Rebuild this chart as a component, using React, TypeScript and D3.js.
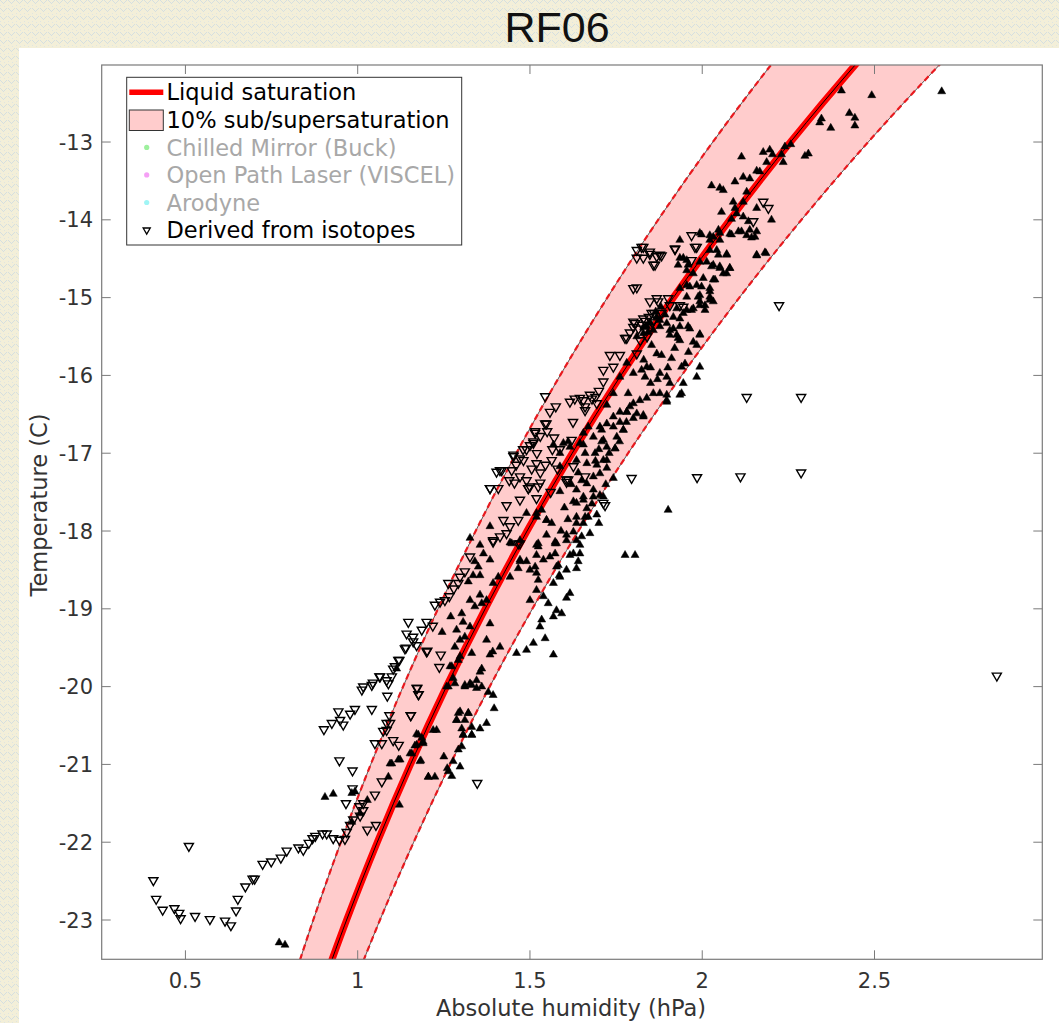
import React, { useEffect } from "react";
import * as d3 from "d3";

// ---------- data ----------
const xTicks = [0.5, 1, 1.5, 2, 2.5];
const yTicks = [-23, -22, -21, -20, -19, -18, -17, -16, -15, -14, -13];

const satTemps = [-24, -23, -22, -21, -20, -19, -18, -17, -16, -15, -14, -13, -12, -11];
const satHumidity = [0.8854, 0.9678, 1.0568, 1.1532, 1.2574, 1.37, 1.4915, 1.6226, 1.7639, 1.9161, 2.08, 2.2562, 2.4457, 2.6492];
const bandLower = [0.7969, 0.871, 0.9511, 1.0379, 1.1317, 1.233, 1.3424, 1.4603, 1.5875, 1.7245, 1.872, 2.0306, 2.2011, 2.3843];
const bandUpper = [0.9739, 1.0646, 1.1625, 1.2685, 1.3831, 1.507, 1.6407, 1.7849, 1.9403, 2.1077, 2.288, 2.4818, 2.6903, 2.9141];

// open down-triangles: derived from isotopes [humidity, temperature]
const isoOpen: [number, number][] = [
  [0.407, -22.49], [0.415, -22.73], [0.434, -22.87], [0.468, -22.85], [0.482, -22.91], [0.486, -22.98],
  [0.51, -22.05], [0.528, -22.95], [0.571, -22.99], [0.615, -23.01], [0.632, -23.07], [0.647, -22.88],
  [0.652, -22.73], [0.674, -22.57], [0.695, -22.47], [0.701, -22.47], [0.724, -22.28], [0.749, -22.25],
  [0.777, -22.2], [0.794, -22.11], [0.828, -22.07], [0.842, -22.1], [0.858, -22.01], [0.869, -21.95],
  [0.877, -21.92], [0.898, -21.89], [0.91, -21.89], [0.929, -21.95], [0.947, -21.97], [0.963, -21.96],
  [0.968, -21.87], [0.978, -21.78], [0.987, -21.71], [1.007, -21.66], [1.016, -21.59], [1.028, -21.84],
  [1.053, -21.78], [1.005, -21.54], [1.016, -21.5], [1.05, -21.39], [0.966, -21.5], [0.985, -21.31],
  [1.07, -21.22], [0.985, -21.08], [0.947, -20.95], [0.902, -20.55], [0.925, -20.47], [0.949, -20.43],
  [0.958, -20.49], [0.944, -20.32], [0.978, -20.35], [0.992, -20.29], [1.041, -20.29], [1.05, -20.73],
  [1.07, -20.73], [1.103, -20.69], [1.119, -20.75], [1.074, -20.57], [1.084, -20.47], [1.092, -20.37],
  [1.154, -20.37], [1.173, -20.02], [1.177, -20.1], [1.012, -20.04], [1.016, -20.0], [1.041, -19.98],
  [1.044, -19.95], [1.063, -19.87], [1.084, -19.92], [1.086, -20.12], [1.099, -19.87], [1.108, -19.74],
  [1.121, -19.66], [1.14, -19.5], [1.161, -19.42], [1.2, -19.55], [1.094, -20.47], [1.084, -20.56],
  [1.065, -19.87], [1.089, -19.96], [1.103, -19.77], [1.118, -19.66], [1.137, -19.51], [1.142, -19.32],
  [1.147, -19.17], [1.161, -19.36], [1.171, -19.47], [1.186, -19.27], [1.2, -19.17], [1.218, -19.22],
  [1.202, -19.54], [1.241, -19.59], [1.237, -19.75], [1.171, -20.02], [1.176, -20.1], [1.154, -20.37],
  [1.224, -18.95], [1.239, -18.91], [1.253, -18.89], [1.266, -18.84], [1.279, -18.74], [1.292, -18.67],
  [1.263, -18.67], [1.297, -18.59], [1.311, -18.52], [1.326, -18.33], [1.384, -17.45], [1.408, -17.45],
  [1.403, -17.24], [1.418, -17.22], [1.452, -17.02], [1.471, -17.07], [1.447, -17.22], [1.471, -17.3],
  [1.495, -17.45], [1.432, -17.67], [1.471, -17.6], [1.423, -17.86], [1.442, -17.94], [1.466, -17.86],
  [1.393, -18.12], [1.413, -18.07], [1.432, -18.03], [1.515, -16.74], [1.51, -16.87], [1.544, -16.62],
  [1.519, -17.13], [1.524, -17.43], [1.519, -17.58], [1.626, -17.17], [1.606, -17.37], [1.66, -17.3],
  [1.544, -16.27], [1.558, -16.47], [1.616, -16.34], [1.645, -16.29], [1.674, -16.25], [1.694, -16.36],
  [1.548, -16.62], [1.515, -16.72], [1.51, -16.85], [1.452, -17.04], [1.481, -17.09], [1.413, -17.22],
  [1.384, -17.45], [1.5, -17.43], [1.563, -17.09], [1.606, -17.34], [1.393, -18.14], [1.471, -18.16],
  [1.713, -17.64], [1.8, -14.88], [1.713, -15.93], [1.742, -15.89], [1.732, -15.74], [1.761, -15.74],
  [1.776, -15.52], [1.81, -15.72], [1.8, -15.31], [1.829, -15.27], [1.848, -15.05], [1.872, -15.05],
  [1.906, -15.1], [1.945, -15.12], [1.81, -14.39], [1.829, -14.35], [1.848, -14.41], [1.868, -14.47],
  [1.858, -14.58], [1.877, -14.45], [1.921, -14.38], [1.969, -14.2], [1.984, -14.35], [1.969, -14.52],
  [2.129, -16.28], [1.795, -17.32], [1.985, -17.31], [2.111, -17.3], [2.223, -15.1], [2.287, -16.28],
  [2.287, -17.25], [2.855, -19.86], [1.347, -21.24], [1.81, -14.87], [1.824, -14.35], [1.81, -14.49],
  [1.829, -14.49], [1.848, -14.44], [1.863, -14.58], [1.882, -14.46], [1.921, -14.37], [1.979, -14.35],
  [2.177, -13.77], [2.192, -13.85], [2.148, -14.02], [1.868, -15.01], [1.901, -15.01], [1.935, -15.1],
  [1.853, -15.2], [1.882, -15.2], [1.805, -15.33], [1.781, -15.52], [1.621, -16.83], [1.611, -17.34],
  [1.495, -17.45], [1.718, -17.67], [1.713, -16.08], [1.466, -18.16], [1.587, -16.95], [1.625, -16.6],
  [1.57, -16.8], [1.49, -16.95], [1.53, -17.25], [1.455, -17.38], [1.575, -16.4], [1.66, -16.45],
  [1.79, -15.45], [1.8, -15.38], [1.815, -15.4], [1.825, -15.35], [1.835, -15.3], [1.845, -15.25],
  [1.82, -15.55], [1.84, -15.5], [1.855, -15.32], [1.86, -15.2], [1.63, -16.3], [1.655, -16.32],
  [1.68, -16.3], [1.66, -16.4], [1.69, -16.28], [1.7, -16.2], [1.48, -16.95], [1.5, -16.9],
  [1.53, -16.78], [1.55, -16.72], [1.565, -16.95], [1.52, -17.0], [1.46, -17.15], [1.505, -17.2],
  [1.545, -17.15], [1.49, -17.35], [1.53, -17.38], [1.56, -17.5], [1.44, -17.35], [1.58, -17.2],
];

// filled up-triangles [humidity, temperature]
const isoFilled: [number, number][] = [
  [0.772, -23.29], [0.789, -23.32], [0.905, -21.42], [0.929, -21.38], [0.983, -21.37], [0.992, -21.35],
  [1.028, -21.46], [0.983, -21.74], [1.007, -21.63], [1.121, -21.52], [1.099, -20.99], [1.123, -20.94],
  [1.089, -21.16], [1.152, -20.86], [1.166, -20.76], [1.183, -20.95], [1.171, -20.61], [1.19, -20.73],
  [1.205, -21.16], [1.113, -19.77], [1.219, -20.56], [1.292, -20.34], [1.287, -20.43], [1.311, -20.43],
  [1.321, -20.34], [1.306, -20.62], [1.331, -20.62], [1.355, -20.54], [1.374, -20.47], [1.396, -20.28],
  [1.258, -20.0], [1.277, -19.89], [1.268, -19.74], [1.292, -19.66], [1.282, -19.49], [1.297, -19.4],
  [1.311, -19.36], [1.331, -19.57], [1.311, -19.98], [1.331, -19.98], [1.345, -19.92], [1.345, -20.02],
  [1.36, -20.0], [1.379, -20.07], [1.393, -20.11], [1.36, -19.77], [1.355, -19.81], [1.374, -19.4],
  [1.384, -19.59], [1.413, -19.49], [1.392, -19.55], [1.287, -19.27], [1.306, -19.17], [1.326, -19.23],
  [1.384, -19.19], [1.302, -19.06], [1.326, -18.89], [1.34, -18.97], [1.36, -18.93], [1.374, -18.89],
  [1.355, -18.82], [1.321, -18.65], [1.335, -18.57], [1.355, -18.57], [1.35, -18.46], [1.393, -18.67],
  [1.408, -18.59], [1.34, -18.39], [1.365, -18.29], [1.384, -18.37], [1.355, -18.18], [1.326, -18.09],
  [1.442, -18.59], [1.466, -18.48], [1.471, -18.37], [1.49, -18.39], [1.519, -18.54], [1.515, -18.46],
  [1.524, -18.63], [1.539, -18.37], [1.558, -18.33], [1.519, -18.31], [1.442, -18.15], [1.471, -18.12],
  [1.519, -18.18], [1.573, -18.16], [1.548, -18.05], [1.606, -18.05], [1.573, -18.29], [1.582, -18.44],
  [1.616, -18.31], [1.635, -18.48], [1.645, -18.29], [1.585, -18.57], [1.568, -18.67], [1.606, -18.86],
  [1.553, -18.93], [1.577, -19.02], [1.592, -19.06], [1.568, -19.1], [1.534, -19.14], [1.529, -19.23],
  [1.544, -19.38], [1.51, -19.44], [1.49, -19.53], [1.461, -19.57], [1.568, -19.59], [1.616, -18.8],
  [1.539, -18.84], [1.519, -18.76], [1.5, -18.89], [1.384, -17.94], [1.447, -18.16], [1.49, -17.77],
  [1.519, -17.82], [1.534, -17.73], [1.548, -17.86], [1.626, -17.62], [1.655, -17.6], [1.635, -17.47],
  [1.66, -17.82], [1.635, -17.9], [1.587, -17.0], [1.568, -16.89], [1.611, -16.85], [1.655, -16.89],
  [1.635, -17.09], [1.665, -17.13], [1.993, -14.17], [2.022, -14.2], [2.051, -14.17], [2.08, -14.18],
  [2.105, -14.15], [2.129, -14.2], [2.153, -14.22], [2.158, -14.45], [2.182, -14.42], [2.071, -14.45],
  [2.047, -14.45], [2.022, -14.39], [1.993, -14.54], [1.935, -14.49], [2.032, -14.58], [2.051, -14.6],
  [2.08, -14.62], [2.071, -14.69], [1.955, -14.65], [1.974, -14.69], [2.003, -14.75], [2.032, -14.77],
  [2.022, -14.88], [1.964, -14.86], [1.935, -14.88], [1.955, -14.99], [1.988, -14.99], [2.022, -14.99],
  [2.032, -15.05], [1.993, -15.05], [1.974, -15.14], [2.008, -15.16], [1.926, -15.14], [1.945, -15.2],
  [1.916, -15.25], [1.897, -15.33], [1.935, -15.37], [1.959, -15.37], [1.993, -15.48], [1.974, -15.57],
  [1.906, -15.42], [1.926, -15.48], [1.935, -15.55], [1.984, -15.61], [1.853, -15.61], [1.868, -15.72],
  [1.882, -15.74], [1.911, -15.78], [1.839, -15.89], [1.834, -16.02], [1.877, -15.97], [1.897, -16.02],
  [1.906, -16.1], [1.94, -15.89], [1.993, -15.89], [1.984, -16.02], [1.945, -16.1], [1.935, -16.25],
  [1.897, -16.25], [1.877, -16.23], [1.858, -16.23], [1.839, -16.29], [1.819, -16.32], [1.8, -16.36],
  [1.781, -16.47], [1.81, -16.49], [1.829, -16.51], [1.897, -16.34], [1.761, -16.6], [1.742, -16.66],
  [1.771, -16.7], [1.723, -16.62], [1.703, -16.66], [1.752, -16.79], [1.713, -16.83], [1.723, -16.92],
  [1.747, -16.94], [1.689, -17.0], [1.713, -17.09], [1.723, -17.19], [1.703, -17.26], [1.684, -17.3],
  [1.742, -17.32], [1.665, -17.39], [1.684, -17.47], [1.713, -17.56], [1.655, -17.56], [1.635, -17.64],
  [1.665, -17.71], [1.694, -17.79], [1.635, -17.82], [1.655, -17.9], [1.626, -18.01], [1.674, -18.03],
  [1.606, -18.12], [1.635, -18.12], [1.901, -17.73], [1.573, -18.14], [1.524, -18.16], [1.519, -17.77],
  [1.548, -17.86], [1.563, -17.9], [1.587, -17.49], [1.587, -17.17], [1.597, -16.87], [1.616, -16.92],
  [1.645, -16.87], [1.655, -16.74], [1.684, -16.79], [1.669, -16.66], [1.708, -16.7], [1.742, -16.53],
  [1.723, -16.38], [1.761, -16.47], [1.742, -16.23], [1.785, -16.23], [1.824, -15.93], [1.8, -15.97],
  [1.761, -16.02], [1.781, -15.84], [1.81, -15.5], [1.829, -15.46], [1.858, -15.42], [1.839, -15.37],
  [1.877, -15.29], [1.892, -15.22], [1.868, -15.25], [1.935, -14.26], [1.955, -14.52], [2.404, -12.34],
  [2.492, -12.4], [2.695, -12.35], [2.346, -12.7], [2.341, -12.75], [2.373, -12.82], [2.427, -12.63],
  [2.443, -12.69], [2.443, -12.79], [2.24, -13.06], [2.257, -13.03], [2.23, -13.16], [2.235, -13.26],
  [2.196, -13.1], [2.177, -13.13], [2.204, -13.16], [2.187, -13.26], [2.114, -13.19], [2.298, -13.18],
  [2.308, -13.15], [2.158, -13.37], [2.167, -13.38], [2.119, -13.45], [2.138, -13.47], [2.095, -13.51],
  [2.027, -13.56], [2.051, -13.59], [2.061, -13.62], [2.129, -13.64], [2.09, -13.77], [2.119, -13.77],
  [2.095, -13.85], [2.056, -13.9], [2.1, -13.92], [2.085, -13.99], [2.119, -13.96], [2.134, -14.02],
  [2.158, -13.85], [2.201, -14.0], [2.138, -14.13], [2.158, -14.15], [2.143, -14.23], [2.114, -14.15],
  [2.085, -14.19], [2.047, -14.13], [2.032, -14.22], [1.998, -14.19], [2.022, -14.26], [2.051, -14.26],
  [2.158, -14.46], [2.185, -14.43], [2.071, -14.44], [2.042, -14.39], [2.013, -14.54], [2.027, -14.6],
  [2.051, -14.62], [2.08, -14.62], [2.061, -14.69], [2.037, -14.77], [1.945, -14.49], [1.93, -14.58],
  [1.959, -14.58], [1.984, -14.84], [1.998, -14.86], [2.022, -14.92], [2.022, -15.03], [1.993, -14.97],
  [1.955, -14.84], [1.969, -15.16], [1.993, -15.1], [2.008, -15.1], [1.955, -15.16], [1.935, -15.27],
  [1.964, -15.4], [1.993, -15.47], [1.916, -15.4], [1.906, -15.48], [1.93, -15.52], [1.877, -15.37],
  [1.843, -15.44], [1.94, -16.23], [1.897, -16.32], [1.829, -16.53], [1.781, -16.47], [1.771, -16.7],
  [1.747, -16.94], [1.708, -16.85], [1.723, -17.09], [1.694, -17.15], [1.684, -17.56], [1.703, -17.54],
  [1.669, -17.82], [1.65, -18.07], [1.645, -18.18], [1.626, -18.29], [1.64, -18.39], [1.577, -18.16],
  [1.606, -18.5], [1.577, -18.46], [1.587, -18.59], [1.524, -18.2], [1.471, -18.39], [1.5, -18.5],
  [1.776, -18.31], [1.805, -18.31], [1.273, -21.15], [1.263, -21.09], [1.297, -21.03], [1.277, -20.96],
  [1.292, -20.81], [1.302, -20.77], [1.306, -20.62], [1.331, -20.62], [1.302, -20.54], [1.331, -20.52],
  [1.205, -21.16], [1.224, -21.16], [1.181, -20.96], [1.094, -20.99], [1.118, -20.94], [1.157, -20.86],
  [1.171, -20.75], [1.19, -20.71], [1.186, -20.66], [1.297, -20.32], [1.321, -20.34], [1.287, -20.43],
  [1.229, -20.56], [1.176, -20.62], [1.297, -19.61], [1.273, -19.74], [1.263, -20.0], [1.282, -19.96],
  [1.311, -20.0], [1.326, -19.96], [1.26, -21.05], [1.25, -20.9], [1.245, -19.3], [1.27, -19.1],
  [1.83, -15.38], [1.85, -15.33], [1.865, -15.18], [1.88, -15.12], [1.69, -17.1], [1.7, -16.95],
  [1.66, -17.0], [1.64, -17.25], [1.62, -17.4], [1.6, -17.7], [1.61, -17.85], [1.59, -18.0],
  [1.65, -17.35], [1.68, -17.65], [1.7, -17.9], [1.72, -17.4], [1.73, -17.0], [1.76, -16.85],
  [1.78, -16.6], [1.8, -16.55], [1.79, -16.4], [1.85, -16.1], [1.87, -16.05], [1.9, -15.9],
  [1.92, -15.65], [1.96, -15.7], [1.95, -15.85], [1.83, -15.8], [1.85, -15.9],
];

const legendLabels = [
  "Liquid saturation",
  "10% sub/supersaturation",
  "Chilled Mirror (Buck)",
  "Open Path Laser (VISCEL)",
  "Arodyne",
  "Derived from isotopes",
];
const legendDotColors = ["#9ef09e", "#f5a0f5", "#a0f5f5"];

// ---------- layout ----------
const W = 1059;
const H = 1023;
const AX = { left: 101.7, right: 1042.3, top: 65, bottom: 959.3 };
const FONT = "DejaVu Sans";

export default function App() {
  useEffect(() => {
    document.body.style.margin = "0";
  }, []);

  const x = d3.scaleLinear().domain([0.257, 2.987]).range([AX.left, AX.right]);
  const y = d3.scaleLinear().domain([-23.505, -12.01]).range([AX.bottom, AX.top]);

  const satPts = satTemps.map((t, i) => [satHumidity[i], t] as [number, number]);
  const lowPts = satTemps.map((t, i) => [bandLower[i], t] as [number, number]);
  const upPts = satTemps.map((t, i) => [bandUpper[i], t] as [number, number]);

  const line = d3
    .line<[number, number]>()
    .x((d) => x(d[0]))
    .y((d) => y(d[1]))
    .curve(d3.curveCatmullRom);

  const area = d3
    .area<number>()
    .x0((_, i) => x(bandLower[i]))
    .x1((_, i) => x(bandUpper[i]))
    .y((_, i) => y(satTemps[i]))
    .curve(d3.curveCatmullRom);

  const upTri = d3.symbol(d3.symbolTriangle, 28)() as string;
  const openTri = d3.symbol(d3.symbolTriangle, 36)() as string;

  const legX = 126.7;
  const legY = 77.3;
  const legW = 335;
  const legH = 167.7;
  const rowY = (i: number) => 92.3 + i * 27.55;

  return (
    <svg width={W} height={H} style={{ display: "block" }} xmlns="http://www.w3.org/2000/svg">
      <defs>
        <pattern id="bgpat" width="8" height="8" patternUnits="userSpaceOnUse">
          <rect width="8" height="8" fill="#f3efd9" />
          <rect x="0" y="0" width="1" height="1" fill="#d5dfe0" />
          <rect x="1" y="1" width="1" height="1" fill="#d5dfe0" />
          <rect x="2" y="2" width="1" height="1" fill="#d5dfe0" />
          <rect x="3" y="3" width="1" height="1" fill="#d5dfe0" />
          <rect x="4" y="2" width="1" height="1" fill="#d5dfe0" />
          <rect x="5" y="1" width="1" height="1" fill="#d5dfe0" />
          <rect x="6" y="0" width="1" height="1" fill="#d5dfe0" />
          <rect x="4" y="6" width="1" height="1" fill="#dfe5e2" />
          <rect x="0" y="5" width="1" height="1" fill="#dfe5e2" />
        </pattern>
        <clipPath id="axclip">
          <rect x={AX.left} y={AX.top} width={AX.right - AX.left} height={AX.bottom - AX.top} />
        </clipPath>
      </defs>

      <rect width={W} height={H} fill="url(#bgpat)" />
      <rect x={19} y={48} width={W - 19} height={H - 48} fill="#ffffff" />

      <text x={557} y={42} textAnchor="middle" fontFamily="Liberation Sans" fontSize={43} fill="#111">
        RF06
      </text>

      {/* plot content */}
      <g clipPath="url(#axclip)">
        <path d={area(satTemps) as string} fill="#ffcccc" stroke="none" />
        <path d={line(lowPts) as string} fill="none" stroke="#555" strokeWidth={1} />
        <path d={line(upPts) as string} fill="none" stroke="#555" strokeWidth={1} />
        <path d={line(lowPts) as string} fill="none" stroke="#e8191e" strokeWidth={2.2} strokeDasharray="6 4" />
        <path d={line(upPts) as string} fill="none" stroke="#e8191e" strokeWidth={2.2} strokeDasharray="6 4" />
        <path d={line(satPts) as string} fill="none" stroke="#ff0000" strokeWidth={7} />
        <path d={line(satPts) as string} fill="none" stroke="#000" strokeWidth={1} />

        {isoOpen.map((d, i) => (
          <path
            key={"o" + i}
            d={openTri}
            transform={`translate(${x(d[0])},${y(d[1])}) rotate(180)`}
            fill="none"
            stroke="#000"
            strokeWidth={1.4}
          />
        ))}
        {isoFilled.map((d, i) => (
          <path
            key={"f" + i}
            d={upTri}
            transform={`translate(${x(d[0])},${y(d[1])})`}
            fill="#000"
            stroke="#000"
            strokeWidth={0.5}
          />
        ))}
      </g>

      {/* axes box */}
      <rect
        x={AX.left}
        y={AX.top}
        width={AX.right - AX.left}
        height={AX.bottom - AX.top}
        fill="none"
        stroke="#7a7a7a"
        strokeWidth={1.2}
      />
      {xTicks.map((t) => (
        <g key={"xt" + t}>
          <line x1={x(t)} x2={x(t)} y1={AX.bottom} y2={AX.bottom - 9} stroke="#7a7a7a" />
          <line x1={x(t)} x2={x(t)} y1={AX.top} y2={AX.top + 9} stroke="#7a7a7a" />
          <text x={x(t)} y={988} textAnchor="middle" fontFamily={FONT} fontSize={21} fill="#333">
            {String(t)}
          </text>
        </g>
      ))}
      {yTicks.map((t) => (
        <g key={"yt" + t}>
          <line x1={AX.left} x2={AX.left + 9} y1={y(t)} y2={y(t)} stroke="#7a7a7a" />
          <line x1={AX.right} x2={AX.right - 9} y1={y(t)} y2={y(t)} stroke="#7a7a7a" />
          <text x={93} y={y(t)} dy="0.36em" textAnchor="end" fontFamily={FONT} fontSize={21} fill="#333">
            {String(t)}
          </text>
        </g>
      ))}

      <text x={571} y={1016} textAnchor="middle" fontFamily={FONT} fontSize={22.5} fill="#333">
        Absolute humidity (hPa)
      </text>
      <text
        transform={`translate(47,${505}) rotate(-90)`}
        textAnchor="middle"
        fontFamily={FONT}
        fontSize={22.5}
        fill="#333"
      >
        Temperature (C)
      </text>

      {/* legend */}
      <g>
        <rect x={legX} y={legY} width={legW} height={legH} fill="#fff" stroke="#333" strokeWidth={1} />
        <line x1={129.3} x2={163.3} y1={rowY(0)} y2={rowY(0)} stroke="#ff0000" strokeWidth={5.5} />
        <rect x={129.3} y={110} width={34} height={20.5} fill="#ffcccc" stroke="#333" strokeWidth={1} />
        {legendDotColors.map((c, i) => (
          <circle key={"ld" + i} cx={146.7} cy={rowY(i + 2)} r={2.6} fill={c} />
        ))}
        <path d={d3.symbol(d3.symbolTriangle, 22)() as string} transform={`translate(146.7,${rowY(5)}) rotate(180)`} fill="none" stroke="#000" strokeWidth={1.3} />
        {legendLabels.map((l, i) => (
          <text
            key={"ll" + i}
            x={166.5}
            y={rowY(i)}
            dy="0.36em"
            fontFamily={FONT}
            fontSize={22.5}
            fill={i >= 2 && i <= 4 ? "#a8a8a8" : "#000"}
          >
            {l}
          </text>
        ))}
      </g>
    </svg>
  );
}
